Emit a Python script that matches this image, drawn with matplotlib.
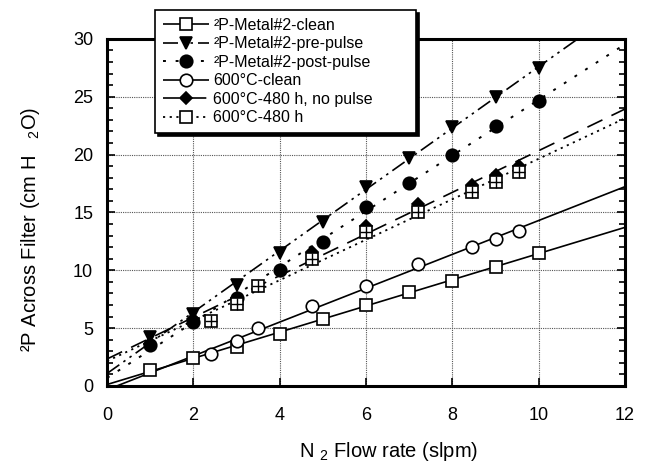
import numpy as np
import matplotlib
matplotlib.use("Agg")
import matplotlib.pyplot as plt
from matplotlib.ticker import MultipleLocator

plt.rcParams['font.family'] = ['Liberation Sans', 'DejaVu Sans']
plt.rcParams['mathtext.fontset'] = 'custom'
plt.rcParams['mathtext.rm'] = 'Liberation Sans'
plt.rcParams['mathtext.it'] = 'Liberation Sans:italic'

# ---- data ----
m2_clean_x = [1.0, 2.0, 3.0, 4.0, 5.0, 6.0, 7.0, 8.0, 9.0, 10.0]
m2_clean_y = [1.4, 2.4, 3.4, 4.5, 5.8, 7.0, 8.1, 9.1, 10.3, 11.5]

m2_pre_x = [1.0, 2.0, 3.0, 4.0, 5.0, 6.0, 7.0, 8.0, 9.0, 10.0]
m2_pre_y = [4.2, 6.2, 8.7, 11.5, 14.2, 17.2, 19.7, 22.4, 25.0, 27.5]

m2_post_x = [1.0, 2.0, 3.0, 4.0, 5.0, 6.0, 7.0, 8.0, 9.0, 10.0]
m2_post_y = [3.5, 5.5, 7.6, 10.0, 12.4, 15.5, 17.5, 20.0, 22.5, 24.6]

c600_clean_x = [2.4, 3.0, 3.5, 4.75, 6.0, 7.2, 8.45, 9.0, 9.55]
c600_clean_y = [2.8, 3.9, 5.0, 6.9, 8.6, 10.5, 12.0, 12.7, 13.4]

c600_np_x = [1.0, 2.0, 3.0, 4.75, 6.0, 7.2, 8.45, 9.0, 9.55]
c600_np_y = [3.6, 5.8, 7.6, 11.6, 13.8, 15.7, 17.4, 18.2, 19.0]

c600_480_x = [2.4, 3.0, 3.5, 4.75, 6.0, 7.2, 8.45, 9.0, 9.55]
c600_480_y = [5.6, 7.1, 8.6, 11.0, 13.3, 15.0, 16.8, 17.6, 18.5]

labels = ["²P-Metal#2-clean", "²P-Metal#2-pre-pulse", "²P-Metal#2-post-pulse",
          "600°C-clean", "600°C-480 h, no pulse", "600°C-480 h"]

fig = plt.figure(figsize=(6.49, 4.73), dpi=100)
ax = fig.add_axes([0.165, 0.184, 0.798, 0.734])

xs = np.linspace(0, 12, 200)

series = [
    (m2_clean_x, m2_clean_y, 's', 'white', (0, ()), 1.2),
    (m2_pre_x, m2_pre_y, 'v', 'black', (0, (9, 3, 1.5, 3, 1.5, 3)), 1.2),
    (m2_post_x, m2_post_y, 'o', 'black', (0, (1.5, 5)), 1.4),
    (c600_clean_x, c600_clean_y, 'o', 'white', (0, ()), 1.2),
    (c600_np_x, c600_np_y, 'D', 'black', (0, (10, 6)), 1.2),
    (c600_480_x, c600_480_y, 's', 'white', (0, (1.2, 2.5)), 1.3),
]

handles = []
for i, (x, y, mk, fc, ls, lw) in enumerate(series):
    p = np.polyfit(x, y, 1)
    yl = np.polyval(p, xs)
    ax.plot(xs, yl, color='black', linestyle=ls, lw=lw, zorder=2)
    ms = 9
    if mk == 'D':
        ms = 6.5
    ax.plot(x, y, linestyle='none', marker=mk, markersize=ms, markerfacecolor=fc,
            markeredgecolor='black', markeredgewidth=1.2, zorder=3 + (0 if i != 5 else 1))
    if i == 5:
        ax.plot(x, y, linestyle='none', marker='+', markersize=9, markeredgecolor='black',
                markeredgewidth=1.0, zorder=5)
    h, = ax.plot([], [], color='black', linestyle=ls, lw=lw, marker=mk, markersize=ms,
                 markerfacecolor=fc, markeredgecolor='black', markeredgewidth=1.2)
    handles.append(h)

ax.set_xlim(0, 12)
ax.set_ylim(0, 30)
ax.xaxis.set_major_locator(MultipleLocator(2))
ax.yaxis.set_major_locator(MultipleLocator(5))
ax.yaxis.set_minor_locator(MultipleLocator(1))
ax.grid(True, which='major', color='#555555', linestyle=(0, (1, 1)), lw=0.8)
ax.set_axisbelow(True)
ax.tick_params(axis='y', which='both', direction='in', left=True, right=True,
               labelsize=13, pad=10)
ax.tick_params(axis='y', which='major', length=6, width=1.2)
ax.tick_params(axis='y', which='minor', length=4, width=1.2)
ax.tick_params(axis='x', which='major', direction='in', length=6, width=1.2,
               labelsize=13, pad=15)
for s in ax.spines.values():
    s.set_linewidth(2.2)

ax.set_xlabel(r"N $_2$ Flow rate (slpm)", fontsize=14.5)
ax.xaxis.set_label_coords(0.544, -0.155)
ax.set_ylabel(r"²P Across Filter (cm H   $_2$O)", fontsize=14.5)
ax.yaxis.set_label_coords(-0.125, 0.45)

leg = fig.legend(handles, labels, loc='upper left',
                 bbox_to_anchor=(0.239, 0.5, 0.402, 0.479), mode='expand',
                 borderaxespad=0.0,
                 fontsize=11.5, frameon=True, fancybox=False, handlelength=2.9,
                 labelspacing=0.22, borderpad=0.5, handletextpad=0.25,
                 shadow={'color': 'black', 'alpha': 1.0})
leg.get_frame().set_edgecolor('black')
leg.get_frame().set_linewidth(1.2)
leg.set_zorder(10)

fig.savefig("out.png", dpi=100)
